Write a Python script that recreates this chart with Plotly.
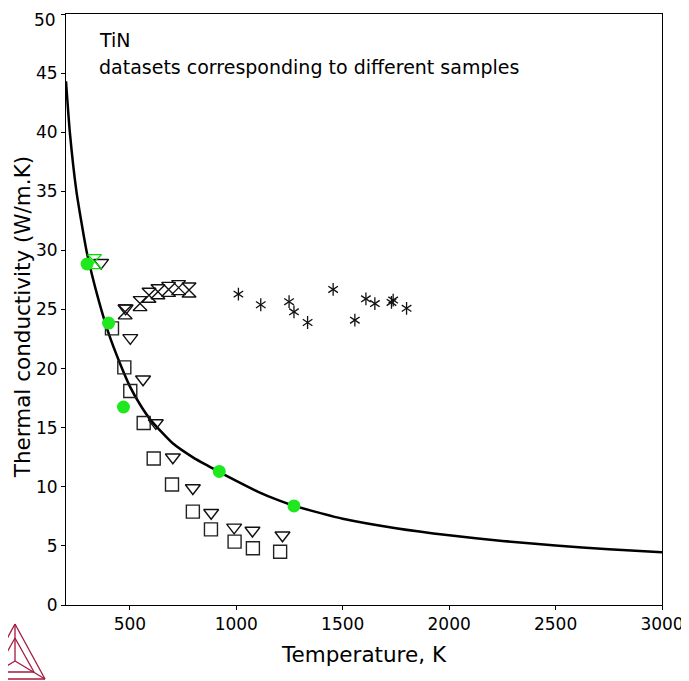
import plotly.graph_objects as go

# Fitted curve
curve_T = [200, 218, 249, 296, 350, 400, 450, 500, 550, 600, 700, 800, 900, 1000, 1100, 1200, 1270,
           1400, 1500, 1750, 2000, 2250, 2500, 2750, 3000]
curve_k = [44.3, 40.0, 35.0, 30.0, 26.0, 23.0, 20.6, 18.5, 16.9, 15.6, 13.7, 12.45, 11.45, 10.5, 9.6, 8.85, 8.4,
           7.75, 7.3, 6.5, 5.9, 5.42, 5.03, 4.72, 4.46]

# Green filled circles
circ_T = [299, 400, 470, 920, 1271]
circ_k = [28.85, 23.85, 16.75, 11.3, 8.38]

# Green open hourglass
ghg_T = [334]
ghg_k = [29.05]

# Open squares
sq_T = [416, 474, 502, 565, 612, 698, 796, 881, 992, 1078, 1206]
sq_k = [23.4, 20.1, 18.1, 15.4, 12.4, 10.2, 7.9, 6.4, 5.36, 4.8, 4.5]

# Open down triangles
tri_T = [365, 480, 502, 562, 622, 702, 796, 882, 990, 1076, 1217]
tri_k = [28.96, 25.1, 22.6, 19.1, 15.4, 12.5, 9.9, 7.8, 6.57, 6.3, 5.9]

# Open hourglasses
hg_T = [478, 548, 590, 632, 682, 729, 778]
hg_k = [24.8, 25.5, 26.2, 26.5, 26.7, 26.85, 26.65]

# Asterisks
ast_T = [1010, 1115, 1248, 1271, 1335, 1455, 1557, 1609, 1651, 1729, 1737, 1800]
ast_k = [26.3, 25.4, 25.66, 24.8, 23.9, 26.7, 24.1, 25.9, 25.5, 25.6, 25.8, 25.1]

x_ticks = [500, 1000, 1500, 2000, 2500, 3000]
y_ticks = [0, 5, 10, 15, 20, 25, 30, 35, 40, 45, 50]
y_ticktext = ["0", "5", "10", "15", "20", "25", "30", "35", "40", "45", ""]

fig = go.Figure()

fig.add_trace(go.Scatter(x=curve_T, y=curve_k, mode="lines",
                         line=dict(color="black", width=2.5, shape="spline", smoothing=0.5),
                         showlegend=False))
fig.add_trace(go.Scatter(x=sq_T, y=sq_k, mode="markers",
                         marker=dict(symbol="square-open", size=13, color="#222", line=dict(width=1.4)),
                         showlegend=False))
fig.add_trace(go.Scatter(x=tri_T, y=tri_k, mode="markers",
                         marker=dict(symbol="triangle-down-open", size=13, color="#111", line=dict(width=1.4)),
                         showlegend=False))
fig.add_trace(go.Scatter(x=hg_T, y=hg_k, mode="markers",
                         marker=dict(symbol="hourglass-open", size=14, color="#111", line=dict(width=1.4)),
                         showlegend=False))
fig.add_trace(go.Scatter(x=ghg_T, y=ghg_k, mode="markers",
                         marker=dict(symbol="hourglass-open", size=14, color="#00e000", line=dict(width=1.4)),
                         showlegend=False))
for sym in ["y-up-open", "y-down-open"]:
    fig.add_trace(go.Scatter(x=ast_T, y=ast_k, mode="markers",
                             marker=dict(symbol=sym, size=8, color="#111", line=dict(width=1.3, color="#111")),
                             showlegend=False))
fig.add_trace(go.Scatter(x=circ_T, y=circ_k, mode="markers",
                         marker=dict(symbol="circle", size=13, color="#1fe81f", line=dict(width=0)),
                         showlegend=False))

# Logo (Thermo-Calc style) in paper coords from screen pixel positions
def px(xp, yp):
    return (xp - 66) / 596, (605 - yp) / 591

apex = px(15, 624)
bl = px(-15, 679)
br = px(45, 679)
cen = px(15, 661)
ia = px(15, 638)
ibl = px(-4, 672)
ibr = px(34, 672)
logo_col = "#a3173f"
shapes = []
def seg(a, b):
    shapes.append(dict(type="line", xref="paper", yref="paper", x0=a[0], y0=a[1], x1=b[0], y1=b[1],
                       line=dict(color=logo_col, width=1.3)))
for a, b in [(apex, bl), (bl, br), (br, apex), (apex, cen), (cen, bl), (cen, br),
             (ia, ibl), (ibl, ibr), (ibr, ia)]:
    seg(a, b)

# page body has an 8px margin: figure offset compensated
fig.update_layout(
    width=681, height=673,
    margin=dict(l=58, r=27, t=6, b=76, autoexpand=False),
    paper_bgcolor="white", plot_bgcolor="white",
    font=dict(family="DejaVu Sans", size=17, color="black"),
    shapes=shapes,
    xaxis=dict(range=[200, 3000], tickvals=x_ticks, ticklabeloverflow="allow",
               showgrid=False, zeroline=False, showline=True, mirror=True, linecolor="black", linewidth=1,
               ticks="outside", ticklen=4, tickcolor="black", automargin=False,
               title=dict(text="Temperature, K", font=dict(size=21.5), standoff=13)),
    yaxis=dict(range=[0, 50], tickvals=y_ticks, ticktext=y_ticktext, ticklabeloverflow="allow",
               showgrid=False, zeroline=False, showline=True, mirror=True, linecolor="black", linewidth=1,
               ticks="outside", ticklen=4, tickcolor="black", automargin=False),
    annotations=[
        dict(text="50", xref="paper", yref="paper", x=-0.0135, y=(605 - 8) / 591, xanchor="right", yanchor="top",
             showarrow=False, font=dict(size=17)),
        dict(text="TiN", xref="paper", yref="paper", x=0.052, y=0.956, xanchor="left", yanchor="middle",
             showarrow=False, font=dict(size=19)),
        dict(text="datasets corresponding to different samples", xref="paper", yref="paper", x=0.052, y=0.910,
             xanchor="left", yanchor="middle", showarrow=False, font=dict(size=19)),
        dict(text="Thermal conductivity (W/m.K)", xref="paper", yref="paper", x=-0.0738, y=0.487,
             xanchor="center", yanchor="middle", textangle=-90, showarrow=False, font=dict(size=21.5)),
    ],
)

fig.write_html("out.html")
